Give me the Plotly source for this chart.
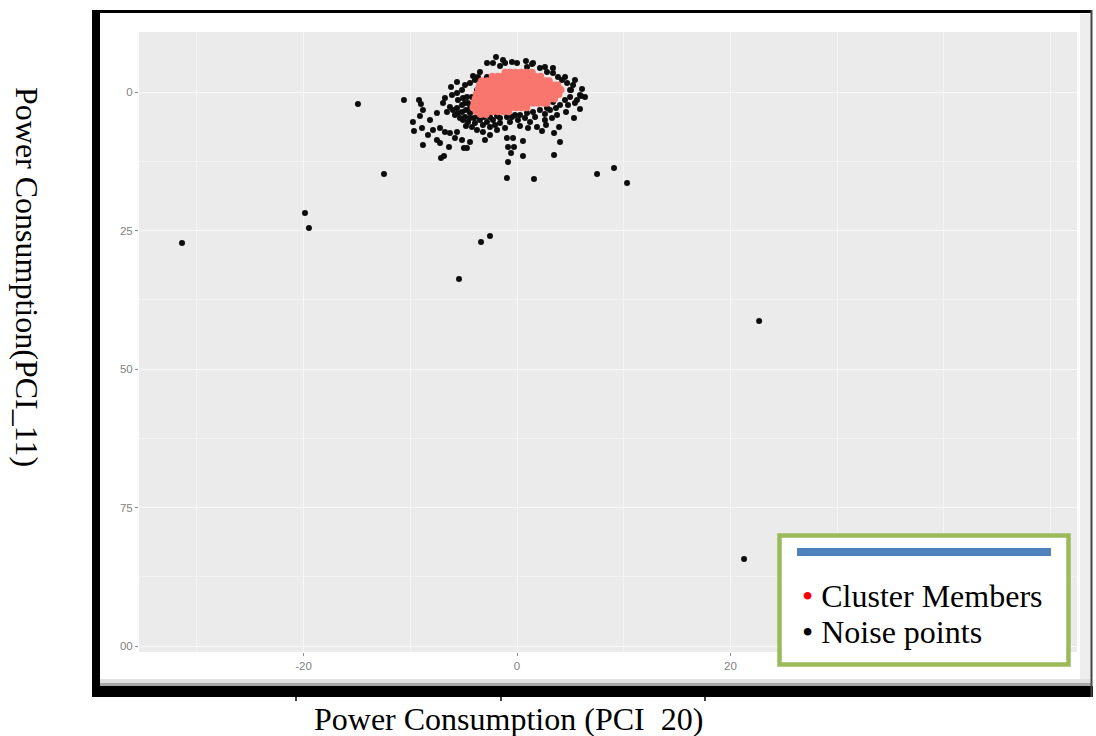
import plotly.graph_objects as go

# ---------------- data ----------------
noise_x = [-31.38, -14.90, -12.46, -19.86, -19.49, -5.43, -3.37, -2.53, -0.94, 1.59,
           7.50, 9.09, 10.31, 22.68, 21.27, -10.59, -9.18, -9.00, -8.81, -9.09,
           -9.75, -9.65, -8.90, -8.81, -7.50, -6.93, -6.75, -6.18, -5.62, -5.62,
           -5.15, -4.69, -4.40, -3.94, -3.65, -2.81, -1.97, -2.25, -2.81, -3.19,
           -3.75, -4.22, -6.28, -5.62, -5.15, -4.87, -4.59, -4.22, -7.87, -7.21,
           -6.75, -6.28, -5.62, -7.50, -7.21, -5.81, -5.15, -4.40, -4.69, -3.75,
           -3.19, -2.53, -1.87, -1.12, -1.59, -0.94, -0.19, -3.47, -2.81, -2.25,
           -0.94, -0.37, -7.12, -6.84, -6.37, -4.97, -0.84, -0.28, -0.56, -0.84,
           0.56, 0.56, 3.47, 4.03, 3.47, 3.94, 2.34, 5.34, 5.90, 6.00,
           6.09, 0.00, 0.84, 1.41, -0.66, 0.94, 1.50, 2.15, 2.81, 3.37,
           3.84, 4.22, 4.69, 5.25, 5.90, 5.62, 4.97, 3.37, 4.03, 2.81,
           2.15, 1.50, 0.94, 0.28, -0.47, 1.22, 1.87, 3.28, 3.75, -5.15,
           -4.78, -4.40, -4.03, -5.34, -5.81, -4.40, -3.84, -4.87, -6.09, -6.56,
           -8.15, -8.34, -3.00, -2.06, 2.62, 4.59, -1.31, 4.97,
           -5.53, -5.06, -4.59, -6.00, -5.53, -5.06, -4.40, -3.94, -4.78, -3.65,
           -3.09, -2.53, -1.87, -3.19, -2.53, -1.59, -0.66, 0.09, 0.75, 1.69,
           2.62, 3.09, 3.65, 4.50, 4.78, 5.43, 6.37, 0.28, 1.03, 2.72,
           -1.59, -1.12, -0.47, 2.62, 3.37, 4.50, 5.43, 5.06, -3.47, -4.12,
           -4.87]
noise_y = [-27.26, -2.17, -14.80, -21.84, -24.55, -33.75, -27.08, -25.99, -15.52, -15.70,
           -14.80, -13.72, -16.43, -41.33, -84.29, -1.44, -1.44, -2.17, -3.25, -4.33,
           -5.42, -7.04, -6.50, -9.57, -3.79, -1.99, -1.08, 0.90, 1.81, -0.18,
           0.36, -0.90, 1.62, 2.17, 2.71, 5.23, 6.32, 5.23, 2.71, 1.81,
           0.36, -0.90, -2.71, -2.89, -3.61, -4.51, -5.42, -6.32, -6.86, -6.50,
           -7.22, -7.40, -7.22, -8.66, -9.21, -8.30, -8.66, -9.03, -10.11, -6.86,
           -7.22, -7.76, -6.86, -6.50, -4.69, -4.51, -4.15, -5.05, -5.42, -5.05,
           -8.30, -8.30, -11.91, -11.55, -9.93, -10.11, -9.93, -9.93, -11.01, -12.64,
           -8.84, -11.55, -11.37, -9.03, -7.40, -6.32, -7.04, -4.69, -3.07, -0.72,
           0.54, 5.23, 5.60, 5.05, 3.61, 4.51, 5.23, 4.33, 3.61, 3.43,
           2.71, 2.17, 1.62, 1.26, -0.54, -1.44, -0.90, -1.81, -2.35, -2.89,
           -3.25, -3.61, -3.79, -4.15, -4.51, -5.42, -6.32, -4.69, -4.15, -2.35,
           -3.25, -3.79, -4.69, -4.69, -4.15, -2.89, -3.61, -1.99, -0.54, -3.61,
           -5.05, -7.76, -8.66, -5.96, -5.05, -3.61, 5.78, 0.36,
           -1.44, -1.08, -1.99, -3.25, -3.79, -5.05, -4.69, -5.60, -6.14, -4.33,
           -4.51, -4.51, -4.33, -5.96, -6.32, -5.60, -5.42, -5.05, -4.69, -4.51,
           -3.97, -3.25, -2.89, -1.44, -2.35, -1.99, -0.90, -6.14, -6.50, -5.96,
           4.69, 5.23, 5.42, 4.51, 4.33, 2.71, 2.17, 0.36, 3.61, 2.89,
           1.26]

cluster_x = [-1.1, -0.6, -0.1, 0.4, 0.9, 1.4,
             -2.3, -1.8, -1.3, -0.8, -0.3, 0.2, 0.7, 1.2, 1.7, 2.2,
             -3.3, -2.8, -2.3, -1.8, -1.3, -0.8, -0.3, 0.2, 0.7, 1.2, 1.7, 2.2, 2.7, 3.0,
             -3.5, -3.0, -2.5, -2.0, -1.5, -1.0, -0.5, 0.0, 0.5, 1.0, 1.5, 2.0, 2.5, 3.0, 3.5, 3.8,
             -3.6, -3.1, -2.6, -2.1, -1.6, -1.1, -0.6, -0.1, 0.4, 0.9, 1.4, 1.9, 2.4, 2.9, 3.4, 3.9, 4.1,
             -3.8, -3.3, -2.8, -2.3, -1.8, -1.3, -0.8, -0.3, 0.2, 0.7, 1.2, 1.7, 2.2, 2.7, 3.2, 3.7, 3.9,
             -3.9, -3.4, -2.9, -2.4, -1.9, -1.4, -0.9, -0.4, 0.1, 0.6, 1.1, 1.6, 2.1, 2.6, 3.1, 3.5,
             -4.0, -3.5, -3.0, -2.5, -2.0, -1.5, -1.0, -0.5, 0.0, 0.5, 1.0, 1.5, 2.0, 2.5, 2.8,
             -4.1, -3.6, -3.1, -2.6, -2.1, -1.6, -1.1, -0.6, -0.1, 0.4, 0.9,
             -3.8, -3.3, -2.8, -2.3, -1.8, -1.3, -0.8,
             -3.4, -2.9]
cluster_y = [3.5, 3.5, 3.5, 3.5, 3.5, 3.5,
             2.8, 2.8, 2.8, 2.8, 2.8, 2.8, 2.8, 2.8, 2.8, 2.8,
             2.0, 2.0, 2.0, 2.0, 2.0, 2.0, 2.0, 2.0, 2.0, 2.0, 2.0, 2.0, 2.0, 2.0,
             1.2, 1.2, 1.2, 1.2, 1.2, 1.2, 1.2, 1.2, 1.2, 1.2, 1.2, 1.2, 1.2, 1.2, 1.2, 1.2,
             0.4, 0.4, 0.4, 0.4, 0.4, 0.4, 0.4, 0.4, 0.4, 0.4, 0.4, 0.4, 0.4, 0.4, 0.4, 0.4, 0.4,
             -0.4, -0.4, -0.4, -0.4, -0.4, -0.4, -0.4, -0.4, -0.4, -0.4, -0.4, -0.4, -0.4, -0.4, -0.4, -0.4, -0.4,
             -1.2, -1.2, -1.2, -1.2, -1.2, -1.2, -1.2, -1.2, -1.2, -1.2, -1.2, -1.2, -1.2, -1.2, -1.2, -1.2,
             -2.0, -2.0, -2.0, -2.0, -2.0, -2.0, -2.0, -2.0, -2.0, -2.0, -2.0, -2.0, -2.0, -2.0, -2.0,
             -2.8, -2.8, -2.8, -2.8, -2.8, -2.8, -2.8, -2.8, -2.8, -2.8, -2.8,
             -3.5, -3.5, -3.5, -3.5, -3.5, -3.5, -3.5,
             -4.0, -4.0]

x_tickvals = [-20, 0, 20]
x_ticktext = ["-20", "0", "20"]
y_tickvals = [0, -25, -50, -75, -100]
y_ticktext = ["0", "25", "50", "75", "00"]

x_title = "Power Consumption (PCI\u00a0 20)"
y_title = "Power Consumption(PCI_11)"
legend_labels = ["Cluster Members", "Noise points"]

# ---------------- figure ----------------
W, H = 1096, 736
def PX(v): return v / W
def PY(v): return 1 - v / H

fig = go.Figure()
fig.add_trace(go.Scatter(x=noise_x, y=noise_y, mode="markers",
                         marker=dict(color="#0d0d0d", size=6, line=dict(width=0)),
                         hoverinfo="skip", showlegend=False))
fig.add_trace(go.Scatter(x=cluster_x, y=cluster_y, mode="markers",
                         marker=dict(color="#F8766D", size=7.5, line=dict(width=0)),
                         hoverinfo="skip", showlegend=False))

tickfont = dict(family="Liberation Sans, Arial", size=11.5, color="#7f7f7f")
fig.update_layout(
    width=W, height=H, margin=dict(l=0, r=0, t=0, b=0),
    paper_bgcolor="white", plot_bgcolor="#EBEBEB", showlegend=False,
    xaxis=dict(domain=[PX(139), PX(1077)], range=[-35.41, 52.46],
               tickvals=x_tickvals, ticktext=x_ticktext, tickfont=tickfont,
               ticks="outside", ticklen=3, tickcolor="#8a8a8a", tickwidth=1,
               showgrid=True, gridcolor="#F7F7F7", gridwidth=1.2, zeroline=False,
               showline=False,
               minor=dict(dtick=10, tick0=0, showgrid=True, gridcolor="#F3F3F3", gridwidth=0.9)),
    yaxis=dict(domain=[PY(652), PY(32)], range=[-101.08, 10.83],
               tickvals=y_tickvals, ticktext=y_ticktext, tickfont=tickfont,
               ticks="outside", ticklen=3, tickcolor="#8a8a8a", tickwidth=1,
               showgrid=True, gridcolor="#F7F7F7", gridwidth=1.2, zeroline=False,
               showline=False,
               minor=dict(dtick=12.5, tick0=0, showgrid=True, gridcolor="#F3F3F3", gridwidth=0.9)),
)

shapes = []
def rect(x0, y0, x1, y1, fill=None, line=None, lw=0, layer="above"):
    d = dict(type="rect", xref="paper", yref="paper",
             x0=PX(x0), x1=PX(x1), y0=PY(y1), y1=PY(y0), layer=layer,
             line=dict(width=lw, color=line or "rgba(0,0,0,0)"))
    if fill:
        d["fillcolor"] = fill
    shapes.append(d)

def line(x0, y0, x1, y1, color, lw):
    shapes.append(dict(type="line", xref="paper", yref="paper",
                       x0=PX(x0), x1=PX(x1), y0=PY(y0), y1=PY(y1),
                       line=dict(color=color, width=lw), layer="above"))

# outer document frame with shadow
rect(1080, 14, 1091, 686, fill="#EEEEEE")
rect(100, 679, 1091, 683, fill="#E0E0E0")
rect(100, 683, 1091, 686, fill="#A8A8A8")
line(92, 11.5, 1092, 11.5, "black", 3)
rect(92, 10, 100, 697, fill="black")
rect(92, 686, 1093, 697, fill="black")
line(1091.5, 10, 1091.5, 697, "#444444", 2)
for tx in (296, 501, 705):
    line(tx, 697, tx, 701, "black", 1.5)

# legend box
rect(779.5, 535.5, 1068.5, 664.5, fill="white", line="#9BBB59", lw=4.5)
rect(797, 548, 1051, 556, fill="#4F81BD")
fig.update_layout(shapes=shapes)

serif = "Liberation Serif, Times New Roman, serif"
ann = []
ann.append(dict(text="<span style='color:#FF0000'>•</span> " + legend_labels[0],
                x=PX(800), y=PY(596), xref="paper", yref="paper",
                xanchor="left", yanchor="middle", showarrow=False,
                font=dict(family=serif, size=32, color="black")))
ann.append(dict(text="• " + legend_labels[1],
                x=PX(800), y=PY(632), xref="paper", yref="paper",
                xanchor="left", yanchor="middle", showarrow=False,
                font=dict(family=serif, size=32, color="black")))
ann.append(dict(text=x_title, x=PX(508), y=PY(719), xref="paper", yref="paper",
                xanchor="center", yanchor="middle", showarrow=False,
                font=dict(family=serif, size=32, color="black")))
ann.append(dict(text=y_title, x=PX(27), y=PY(277), xref="paper", yref="paper",
                xanchor="center", yanchor="middle", showarrow=False, textangle=90,
                font=dict(family=serif, size=32, color="black")))
fig.update_layout(annotations=ann)

fig.write_html("out.html")
